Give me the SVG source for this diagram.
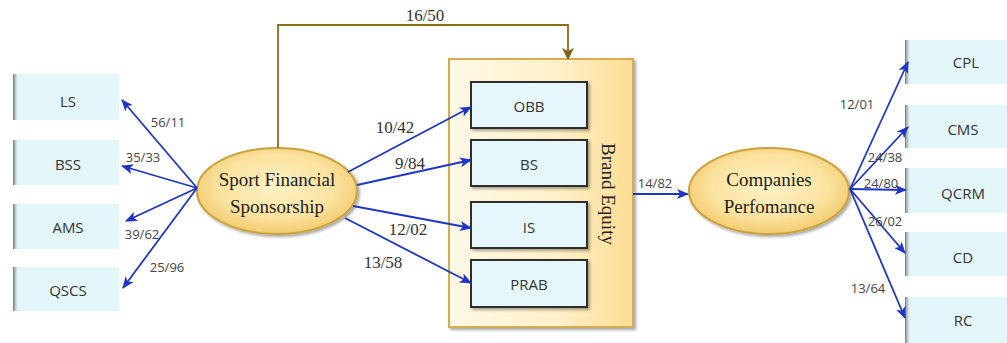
<svg xmlns="http://www.w3.org/2000/svg" width="1007" height="343" viewBox="0 0 1007 343">
<defs>
  <radialGradient id="ellG" cx="0.5" cy="0.45" r="0.6">
    <stop offset="0" stop-color="#fdf1c6"/>
    <stop offset="0.6" stop-color="#fbe3a0"/>
    <stop offset="1" stop-color="#f0c562"/>
  </radialGradient>
  <linearGradient id="beG" x1="0" y1="0" x2="1" y2="0">
    <stop offset="0" stop-color="#fff9e6"/>
    <stop offset="0.6" stop-color="#fff0c8"/>
    <stop offset="1" stop-color="#fcdc92"/>
  </linearGradient>
  <linearGradient id="edgeG" x1="0" y1="0" x2="1" y2="0">
    <stop offset="0" stop-color="#6f7475"/>
    <stop offset="1" stop-color="#e2f5f9" stop-opacity="0"/>
  </linearGradient>
  <filter id="sh" x="-10%" y="-10%" width="130%" height="140%">
    <feGaussianBlur in="SourceAlpha" stdDeviation="1.5"/>
    <feOffset dx="2" dy="2" result="b"/>
    <feComponentTransfer><feFuncA type="linear" slope="0.35"/></feComponentTransfer>
    <feMerge><feMergeNode/><feMergeNode in="SourceGraphic"/></feMerge>
  </filter>
  <marker id="ab" markerWidth="12" markerHeight="10" refX="11" refY="5" orient="auto" markerUnits="userSpaceOnUse">
    <path d="M0,0 L12,5 L0,10 L3,5 Z" fill="#1f35c4"/>
  </marker>
  <marker id="abr" markerWidth="12" markerHeight="12" refX="11" refY="6" orient="auto" markerUnits="userSpaceOnUse">
    <path d="M0,0 L12,6 L0,12 L3,6 Z" fill="#7d6316"/>
  </marker>
</defs>
<style>
  .lbox{fill:#e3f6fa;}
  .ibox{fill:#e6f7fb;stroke:#2e2e2e;stroke-width:2;}
  .ell{fill:url(#ellG);stroke:#c9a13e;stroke-width:2;}
  .bt{font-family:"Open Sans","Liberation Sans",sans-serif;font-size:15px;font-weight:500;fill:#333;text-anchor:middle;dominant-baseline:central;}
  .et{font-family:"Liberation Serif",serif;font-size:19px;fill:#222;text-anchor:middle;}
  .lb{font-family:"Open Sans","Liberation Sans",sans-serif;font-size:13px;fill:#444;text-anchor:middle;dominant-baseline:central;}
  .lbs{font-family:"Liberation Serif",serif;font-size:17px;fill:#333;text-anchor:middle;dominant-baseline:central;}
  .c{stroke:#1f35c4;stroke-width:1.8;fill:none;marker-end:url(#ab);}
</style>

<g id="LS"><rect class="lbox" x="13" y="74" width="106" height="46"/><rect x="13" y="74" width="6" height="46" fill="url(#edgeG)"/><text class="bt" x="68" y="101">LS</text></g>
<g id="BSS"><rect class="lbox" x="13" y="140" width="106" height="45"/><rect x="13" y="140" width="6" height="45" fill="url(#edgeG)"/><text class="bt" x="68" y="164">BSS</text></g>
<g id="AMS"><rect class="lbox" x="13" y="204" width="106" height="45"/><rect x="13" y="204" width="6" height="45" fill="url(#edgeG)"/><text class="bt" x="68" y="227">AMS</text></g>
<g id="QSCS"><rect class="lbox" x="13" y="267" width="106" height="44"/><rect x="13" y="267" width="6" height="44" fill="url(#edgeG)"/><text class="bt" x="68" y="290">QSCS</text></g>

<g id="BrandEquity">
  <rect x="449" y="59" width="184" height="268" fill="url(#beG)" stroke="#d4ad52" stroke-width="2" filter="url(#sh)"/>
  <text class="et" font-size="18" transform="translate(608,194) rotate(90)" dominant-baseline="central">Brand Equity</text>
</g>
<g id="OBB"><rect class="ibox" x="471" y="82" width="116" height="46" filter="url(#sh)"/><text class="bt" x="529" y="106">OBB</text></g>
<g id="BS"><rect class="ibox" x="471" y="140" width="116" height="46" filter="url(#sh)"/><text class="bt" x="529" y="164">BS</text></g>
<g id="IS"><rect class="ibox" x="471" y="202" width="116" height="46" filter="url(#sh)"/><text class="bt" x="529" y="227">IS</text></g>
<g id="PRAB"><rect class="ibox" x="471" y="260" width="116" height="47" filter="url(#sh)"/><text class="bt" x="529" y="284">PRAB</text></g>

<g id="SFS"><ellipse class="ell" cx="277" cy="191" rx="80" ry="43" filter="url(#sh)"/><text class="et" x="277" y="186">Sport Financial</text><text class="et" x="277" y="213">Sponsorship</text></g>
<g id="CP"><ellipse class="ell" cx="769" cy="191" rx="80" ry="43" filter="url(#sh)"/><text class="et" x="769" y="186" font-size="18">Companies</text><text class="et" x="769" y="213" font-size="18">Perfomance</text></g>

<g id="CPL"><rect class="lbox" x="905" y="40" width="104" height="44"/><rect x="905" y="40" width="6" height="44" fill="url(#edgeG)"/><text class="bt" x="966" y="62" font-size="18">CPL</text></g>
<g id="CMS"><rect class="lbox" x="905" y="105" width="104" height="43"/><rect x="905" y="105" width="6" height="43" fill="url(#edgeG)"/><text class="bt" x="963" y="129">CMS</text></g>
<g id="QCRM"><rect class="lbox" x="905" y="168" width="104" height="45"/><rect x="905" y="168" width="6" height="45" fill="url(#edgeG)"/><text class="bt" x="963" y="193">QCRM</text></g>
<g id="CD"><rect class="lbox" x="905" y="232" width="104" height="44"/><rect x="905" y="232" width="6" height="44" fill="url(#edgeG)"/><text class="bt" x="963" y="257">CD</text></g>
<g id="RC"><rect class="lbox" x="905" y="297" width="104" height="46"/><rect x="905" y="297" width="6" height="46" fill="url(#edgeG)"/><text class="bt" x="963" y="320">RC</text></g>

<g id="connectors">
  <path d="M278,148 V25 H568 V59" fill="none" stroke="#8a6d16" stroke-width="1.8" marker-end="url(#abr)"/>
  <line class="c" x1="197" y1="188" x2="122" y2="100"/>
  <line class="c" x1="197" y1="188" x2="122" y2="166"/>
  <line class="c" x1="197" y1="188" x2="126" y2="221"/>
  <line class="c" x1="197" y1="188" x2="123" y2="288"/>
  <line class="c" x1="348" y1="172" x2="471" y2="107"/>
  <line class="c" x1="357" y1="185" x2="471" y2="160"/>
  <line class="c" x1="353" y1="206" x2="471" y2="228"/>
  <line class="c" x1="345" y1="218" x2="471" y2="283"/>
  <line class="c" x1="633" y1="194" x2="688" y2="194"/>
  <line class="c" x1="850" y1="189" x2="908" y2="62"/>
  <line class="c" x1="850" y1="189" x2="908" y2="127"/>
  <line class="c" x1="850" y1="189" x2="906" y2="190"/>
  <line class="c" x1="850" y1="189" x2="905" y2="253"/>
  <line class="c" x1="850" y1="189" x2="905" y2="318"/>
</g>

<g id="labels">
  <text class="lbs" x="425" y="15">16/50</text>
  <text class="lb" x="168" y="122">56/11</text>
  <text class="lb" x="143" y="157">35/33</text>
  <text class="lb" x="142" y="234">39/62</text>
  <text class="lb" x="167" y="267">25/96</text>
  <text class="lbs" x="395" y="127">10/42</text>
  <text class="lbs" x="410" y="163">9/84</text>
  <text class="lbs" x="408" y="229">12/02</text>
  <text class="lbs" x="383" y="262">13/58</text>
  <text class="lb" x="655" y="183">14/82</text>
  <text class="lb" x="857" y="104">12/01</text>
  <text class="lb" x="885" y="157">24/38</text>
  <text class="lb" x="881" y="183">24/80</text>
  <text class="lb" x="885" y="221">26/02</text>
  <text class="lb" x="868" y="288">13/64</text>
</g>
</svg>
